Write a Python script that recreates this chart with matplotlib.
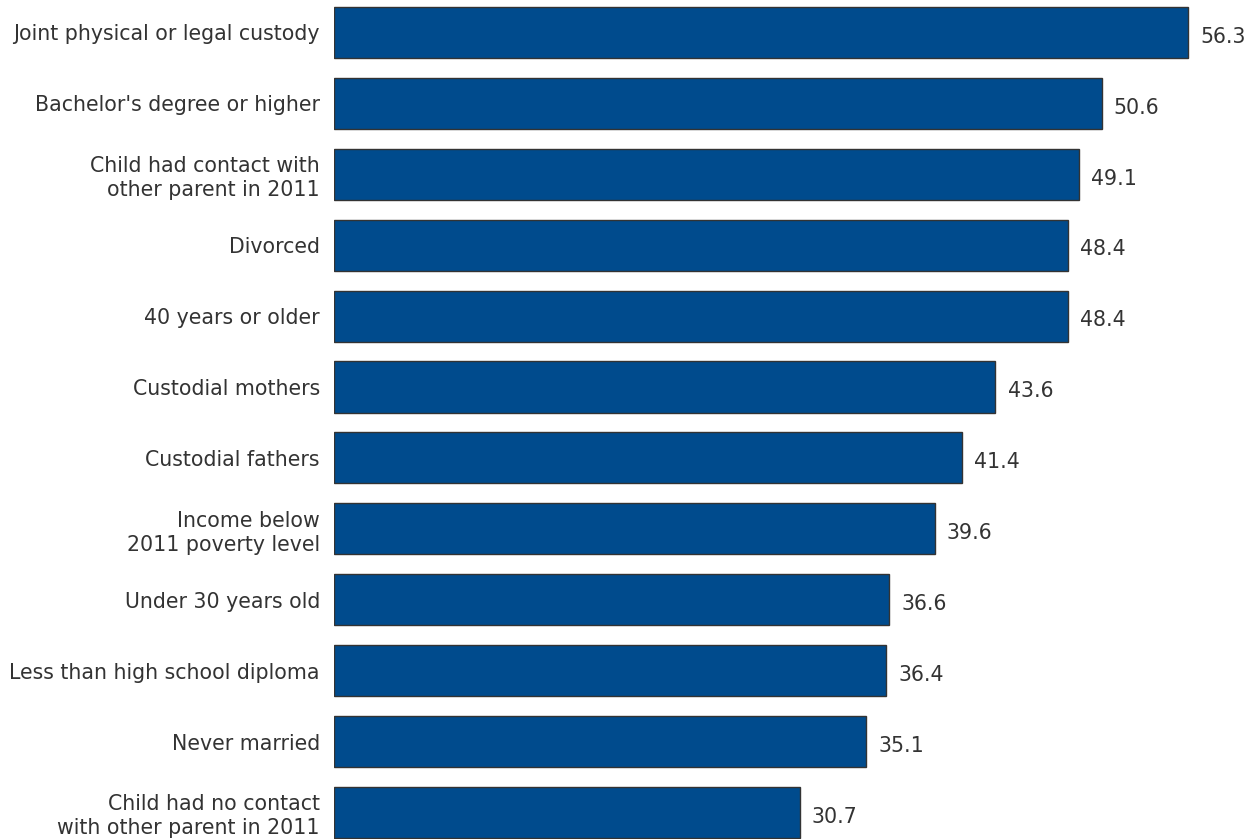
import matplotlib.pyplot as plt

categories = [
    "Joint physical or legal custody",
    "Bachelor's degree or higher",
    "Child had contact with\nother parent in 2011",
    "Divorced",
    "40 years or older",
    "Custodial mothers",
    "Custodial fathers",
    "Income below\n2011 poverty level",
    "Under 30 years old",
    "Less than high school diploma",
    "Never married",
    "Child had no contact\nwith other parent in 2011",
]
values = [56.3, 50.6, 49.1, 48.4, 48.4, 43.6, 41.4, 39.6, 36.6, 36.4, 35.1, 30.7]

fig = plt.figure(figsize=(12.55, 8.39), dpi=100)
ax = fig.add_axes([0.266, 0, 0.734, 1])

pos = list(range(len(values)))
ax.barh(pos, values, height=0.72, color="#004B8D", edgecolor="#333333", linewidth=1)
for p, v in zip(pos, values):
    ax.text(v + 0.8, p + 0.06, f"{v:.1f}", va="center", ha="left", fontsize=14.8, color="#333333")

ax.set_xlim(0, 60.7)
ax.set_ylim(11.375, -0.458)
ax.set_yticks(pos)
ax.set_yticklabels(categories, fontsize=14.8, color="#333333", linespacing=1.25)
ax.tick_params(axis="y", length=0, pad=10)
ax.set_xticks([])
for s in ax.spines.values():
    s.set_visible(False)

fig.savefig("out.png", dpi=100)
